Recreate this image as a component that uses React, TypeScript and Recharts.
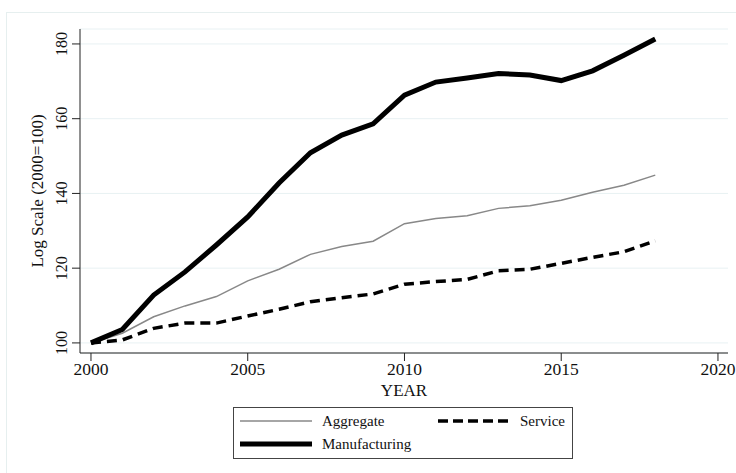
import React from 'react';
import { LineChart, Line, XAxis, YAxis, CartesianGrid } from 'recharts';

const years = [2000, 2001, 2002, 2003, 2004, 2005, 2006, 2007, 2008, 2009, 2010, 2011, 2012, 2013, 2014, 2015, 2016, 2017, 2018];
const aggregate = [100, 102.6, 107, 109.9, 112.4, 116.6, 119.7, 123.7, 125.8, 127.2, 131.9, 133.3, 134, 136, 136.7, 138.2, 140.3, 142.2, 144.9];
const manufacturing = [100, 103.6, 112.8, 119, 126.2, 133.7, 142.8, 150.9, 155.6, 158.6, 166.3, 169.8, 170.9, 172.1, 171.7, 170.2, 172.8, 177, 181.3];
const service = [100, 100.8, 103.9, 105.3, 105.3, 107.2, 109, 111, 112.1, 113.1, 115.7, 116.4, 117, 119.3, 119.7, 121.3, 122.9, 124.4, 127.3];
const xTicks = [2000, 2005, 2010, 2015, 2020];
const yTicks = [100, 120, 140, 160, 180];

const data = years.map((year, i) => ({
  year,
  aggregate: aggregate[i],
  manufacturing: manufacturing[i],
  service: service[i],
}));

const font = '"Liberation Serif", "Times New Roman", serif';

function YTick(props: any) {
  const { x, y, payload } = props;
  return (
    <text
      x={x - 3}
      y={y}
      transform={`rotate(-90 ${x - 3} ${y})`}
      textAnchor="middle"
      fontFamily={font}
      fontSize={16}
      fill="#111"
    >
      {payload.value}
    </text>
  );
}

function LegendBox() {
  return (
    <svg width={340} height={52} style={{ position: 'absolute', left: 233, top: 407 }}>
      <rect x={0.5} y={0.5} width={339} height={51} fill="#fff" stroke="#444" strokeWidth={1} />
      <line x1={7} y1={14} x2={79} y2={14} stroke="#888" strokeWidth={1.5} />
      <line x1={205} y1={14} x2={277} y2={14} stroke="#000" strokeWidth={3.5} strokeDasharray="10 5" />
      <line x1={7} y1={37} x2={79} y2={37} stroke="#000" strokeWidth={5} />
      <text x={89} y={19} fontFamily={font} fontSize={15} fill="#111">Aggregate</text>
      <text x={287} y={19} fontFamily={font} fontSize={15} fill="#111">Service</text>
      <text x={89} y={42} fontFamily={font} fontSize={15} fill="#111">Manufacturing</text>
    </svg>
  );
}

export default function App() {
  return (
    <div style={{ position: 'absolute', left: 0, top: 0, width: 736, height: 473, background: '#fff' }}>
      <div
        style={{
          position: 'absolute',
          left: 6,
          top: 12,
          width: 730,
          height: 461,
          borderLeft: '1px solid #e6efef',
          borderTop: '1px solid #e6efef',
        }}
      />
      <LineChart
        width={736}
        height={473}
        data={data}
        margin={{ top: 29, right: 8, bottom: 90, left: 20 }}
        style={{ position: 'absolute', left: 0, top: 0 }}
      >
        <CartesianGrid vertical={false} stroke="#e8f1f3" strokeWidth={1} />
        <XAxis
          dataKey="year"
          type="number"
          domain={[1999.65, 2020.32]}
          ticks={xTicks}
          height={30}
          axisLine={{ stroke: '#222', strokeWidth: 1 }}
          tickLine={{ stroke: '#222' }}
          tickSize={8}
          tick={{ fontFamily: font, fontSize: 17.5, fill: '#111' }}
          label={{ value: 'YEAR', position: 'insideBottom', offset: -13, fontFamily: font, fontSize: 17, fill: '#111' }}
        />
        <YAxis
          type="number"
          domain={[97.3, 184]}
          ticks={yTicks}
          width={60}
          axisLine={{ stroke: '#222', strokeWidth: 1 }}
          tickLine={{ stroke: '#222' }}
          tickSize={8}
          tick={<YTick />}
          label={{
            value: 'Log Scale (2000=100)',
            angle: -90,
            position: 'insideLeft',
            offset: 17,
            fontFamily: font,
            fontSize: 17,
            fill: '#111',
            style: { textAnchor: 'middle' },
          }}
        />
        <Line type="linear" dataKey="aggregate" stroke="#888" strokeWidth={1.5} dot={false} isAnimationActive={false} />
        <Line type="linear" dataKey="service" stroke="#000" strokeWidth={3.5} strokeDasharray="10 6" dot={false} isAnimationActive={false} />
        <Line type="linear" dataKey="manufacturing" stroke="#000" strokeWidth={5} dot={false} isAnimationActive={false} />
      </LineChart>
      <LegendBox />
    </div>
  );
}
